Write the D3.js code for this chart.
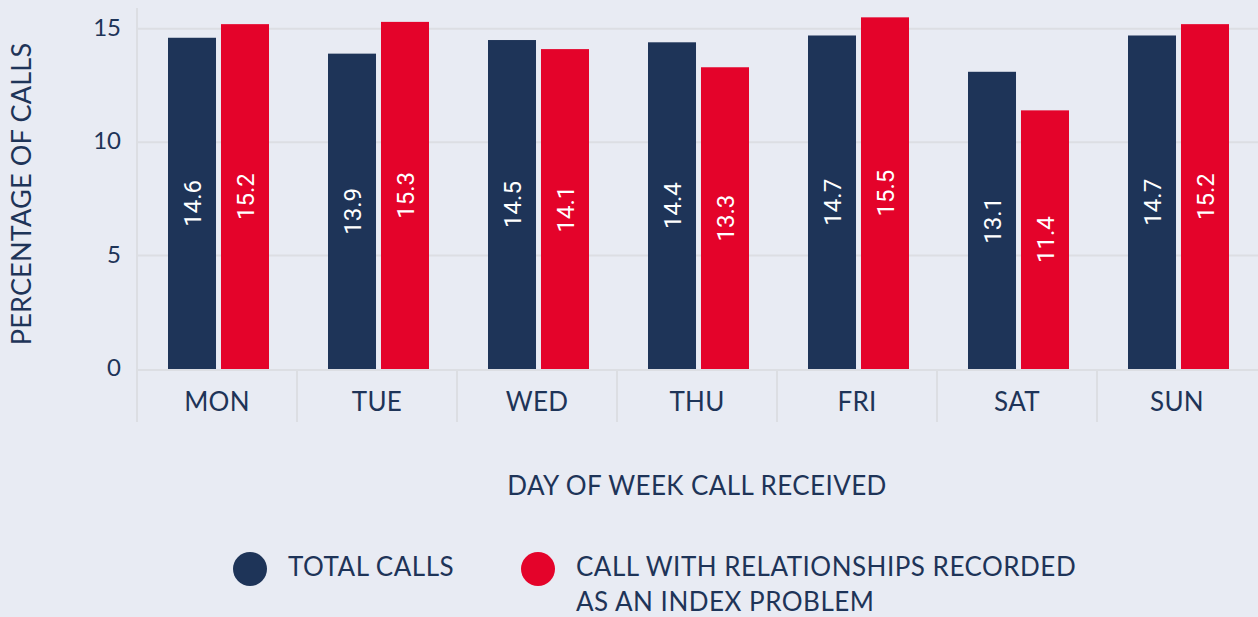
<!DOCTYPE html>
<html>
<head>
<meta charset="utf-8">
<script src="https://cdn.jsdelivr.net/npm/d3@7"></script>
<style>
  html, body { margin: 0; padding: 0; background: #e8ebf3; }
  svg { display: block; }
  text { font-family: Lato, "Open Sans", sans-serif; fill: #1e3458; }
</style>
</head>
<body>
<svg id="chart" width="1258" height="617"></svg>
<script>
// Share of calls by weekday (%)
const days = ["MON", "TUE", "WED", "THU", "FRI", "SAT", "SUN"];
const seriesNames = ["TOTAL CALLS", "CALL WITH RELATIONSHIPS RECORDED AS AN INDEX PROBLEM"];
const totalCalls = [14.6, 13.9, 14.5, 14.4, 14.7, 13.1, 14.7];
const indexProblemCalls = [15.2, 15.3, 14.1, 13.3, 15.5, 11.4, 15.2];
const yTicks = [0, 5, 10, 15];
const xTitle = "DAY OF WEEK CALL RECEIVED";
const yTitle = "PERCENTAGE OF CALLS";

const navy = "#1e3458", red = "#e4032a", grid = "#dcdee3";

const svg = d3.select("#chart");
const plotLeft = 137, plotRight = 1257, plotTop = 6, plotBottom = 369;

const x = d3.scaleBand().domain(days).range([plotLeft, plotRight]).padding(0);
const sub = d3.scaleBand().domain(seriesNames).range([31, 132]).paddingInner(0.094);
const y = d3.scaleLinear().domain([0, 16]).range([plotBottom, plotTop]);

// horizontal gridlines
svg.append("g").selectAll("line").data(yTicks.filter(d => d > 0)).join("line")
  .attr("x1", plotLeft).attr("x2", 1258)
  .attr("y1", d => y(d)).attr("y2", d => y(d))
  .attr("stroke", grid).attr("stroke-width", 2);

// baseline, left axis and category dividers
svg.append("line").attr("x1", plotLeft).attr("x2", 1258).attr("y1", plotBottom + 1).attr("y2", plotBottom + 1)
  .attr("stroke", grid).attr("stroke-width", 2);
svg.append("line").attr("x1", plotLeft).attr("x2", plotLeft).attr("y1", 8).attr("y2", 422)
  .attr("stroke", grid).attr("stroke-width", 2);
svg.append("g").selectAll("line").data(days.slice(1)).join("line")
  .attr("x1", d => x(d)).attr("x2", d => x(d))
  .attr("y1", plotBottom).attr("y2", 422)
  .attr("stroke", grid).attr("stroke-width", 2);

// y tick labels
svg.append("g").selectAll("text").data(yTicks).join("text")
  .attr("x", 121).attr("y", d => y(d)).attr("dy", "0.3em")
  .attr("text-anchor", "end").attr("font-size", 24)
  .text(d => d);

// x tick labels
svg.append("g").selectAll("text").data(days).join("text")
  .attr("x", d => x(d) + x.bandwidth() / 2).attr("y", 411)
  .attr("text-anchor", "middle").attr("font-size", 26)
  .style("letter-spacing", "0.3px")
  .text(d => d);

// bars
const rows = days.map((d, i) => ({ day: d, values: [totalCalls[i], indexProblemCalls[i]] }));
const colors = [navy, red];
const groups = svg.append("g").selectAll("g").data(rows).join("g")
  .attr("transform", d => `translate(${x(d.day)},0)`);

groups.selectAll("rect").data(d => d.values.map((v, j) => ({ v, j }))).join("rect")
  .attr("x", d => sub(seriesNames[d.j]))
  .attr("width", sub.bandwidth())
  .attr("y", d => y(d.v))
  .attr("height", d => plotBottom - y(d.v))
  .attr("fill", d => colors[d.j]);

groups.selectAll("text.val").data(d => d.values.map((v, j) => ({ v, j }))).join("text")
  .attr("class", "val")
  .attr("transform", d => `translate(${sub(seriesNames[d.j]) + sub.bandwidth() / 2},${(y(d.v) + plotBottom) / 2}) rotate(-90)`)
  .attr("text-anchor", "middle").attr("dy", "0.36em")
  .attr("font-size", 24)
  .style("font-family", "Roboto, sans-serif")
  .style("fill", "#ffffff")
  .text(d => d.v.toFixed(1));

// axis titles
svg.append("text").attr("x", 697).attr("y", 495)
  .attr("text-anchor", "middle").attr("font-size", 26)
  .style("letter-spacing", "0.4px").text(xTitle);
svg.append("text").attr("transform", "translate(31,194) rotate(-90)")
  .attr("text-anchor", "middle").attr("font-size", 27)
  .style("letter-spacing", "0.2px").text(yTitle);

// legend
const legend = svg.append("g");
const legendItems = [
  { cx: 250, tx: 288, color: navy, lines: ["TOTAL CALLS"] },
  { cx: 538, tx: 576, color: red, lines: ["CALL WITH RELATIONSHIPS RECORDED", "AS AN INDEX PROBLEM"] }
];
legendItems.forEach(item => {
  legend.append("circle").attr("cx", item.cx).attr("cy", 569).attr("r", 17).attr("fill", item.color);
  legend.append("text").attr("x", item.tx).attr("y", 576).attr("font-size", 26)
    .style("letter-spacing", "0.5px")
    .selectAll("tspan").data(item.lines).join("tspan")
    .attr("x", item.tx).attr("dy", (d, i) => i === 0 ? 0 : 35).text(d => d);
});
</script>
</body>
</html>
